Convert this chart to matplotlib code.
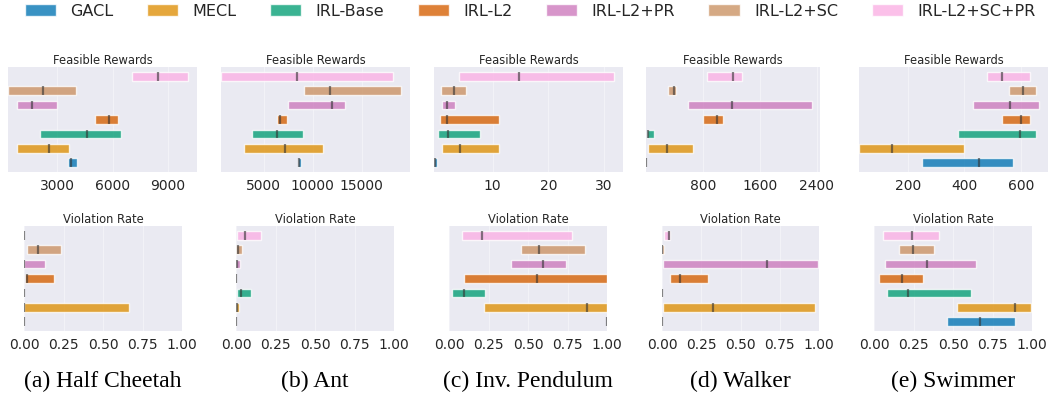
import numpy as np
import matplotlib
matplotlib.use("Agg")
import matplotlib.pyplot as plt
from matplotlib.patches import Patch

# ---------------- data ----------------
methods = ["GACL", "MECL", "IRL-Base", "IRL-L2", "IRL-L2+PR", "IRL-L2+SC", "IRL-L2+SC+PR"]
envs = ["(a) Half Cheetah", "(b) Ant", "(c) Inv. Pendulum", "(d) Walker", "(e) Swimmer"]

# Feasible rewards: min / max / median per method (order as in `methods`)
hc_rew_low = [3562, 790, 2058, 5029, 790, 340, 7040]
hc_rew_high = [4051, 3616, 6424, 6298, 2964, 4014, 10083]
hc_rew_med = [3761, 2529, 4631, 5826, 1623, 2203, 8471]

ant_rew_low = [8480, 2994, 3813, 6331, 7497, 9166, 670]
ant_rew_high = [8828, 11080, 9063, 7395, 13290, 19000, 18142]
ant_rew_med = [8654, 7221, 6402, 6679, 11929, 11796, 8378]

ip_rew_low = [-0.55, 0.9, 0.1, 0.5, 0.9, 0.7, 4.0]
ip_rew_high = [-0.05, 11.2, 7.8, 11.2, 3.2, 5.2, 31.8]
ip_rew_med = [-0.3, 4.1, 2.0, 1.7, 1.8, 3.0, 14.7]

wk_rew_low = [0, 22, 8, 799, 588, 314, 856]
wk_rew_high = [5, 658, 112, 1082, 2330, 422, 1351]
wk_rew_med = [2, 291, 27, 993, 1209, 390, 1223]

sw_rew_low = [250, 28, 378, 533, 430, 557, 478]
sw_rew_high = [570, 398, 654, 630, 663, 653, 630]
sw_rew_med = [450, 144, 595, 598, 560, 606, 533]

# Violation rate
hc_vio_low = [0, 0, 0, 0.004, 0, 0.017, 0]
hc_vio_high = [0, 0.664, 0, 0.188, 0.13, 0.237, 0]
hc_vio_med = [0, 0.002, 0, 0.02, 0.002, 0.087, 0]

ant_vio_low = [0, 0, 0.004, 0, 0, 0, 0.004]
ant_vio_high = [0, 0.017, 0.093, 0, 0.027, 0.036, 0.16]
ant_vio_med = [0, 0.004, 0.032, 0, 0.004, 0.01, 0.057]

ip_vio_low = [1.0, 0.222, 0.019, 0.097, 0.391, 0.457, 0.082]
ip_vio_high = [1.0, 1.0, 0.23, 1.0, 0.742, 0.863, 0.778]
ip_vio_med = [1.0, 0.873, 0.093, 0.56, 0.594, 0.567, 0.207]

wk_vio_low = [0, 0.004, 0, 0.05, 0.004, 0, 0.01]
wk_vio_high = [0, 0.977, 0, 0.296, 0.996, 0.01, 0.053]
wk_vio_med = [0, 0.326, 0, 0.114, 0.666, 0.002, 0.044]

sw_vio_low = [0.459, 0.524, 0.085, 0.03, 0.07, 0.156, 0.055]
sw_vio_high = [0.89, 0.996, 0.611, 0.311, 0.643, 0.378, 0.412]
sw_vio_med = [0.668, 0.894, 0.216, 0.175, 0.334, 0.247, 0.241]

rew_ticks = [[3000, 6000, 9000], [5000, 10000, 15000], [10, 20, 30],
             [800, 1600, 2400], [200, 400, 600]]
vio_ticks = [0.0, 0.25, 0.5, 0.75, 1.0]
vio_ticklabels = ["0.00", "0.25", "0.50", "0.75", "1.00"]

rew_data = [(hc_rew_low, hc_rew_high, hc_rew_med),
            (ant_rew_low, ant_rew_high, ant_rew_med),
            (ip_rew_low, ip_rew_high, ip_rew_med),
            (wk_rew_low, wk_rew_high, wk_rew_med),
            (sw_rew_low, sw_rew_high, sw_rew_med)]
vio_data = [(hc_vio_low, hc_vio_high, hc_vio_med),
            (ant_vio_low, ant_vio_high, ant_vio_med),
            (ip_vio_low, ip_vio_high, ip_vio_med),
            (wk_vio_low, wk_vio_high, wk_vio_med),
            (sw_vio_low, sw_vio_high, sw_vio_med)]

# ---------------- style ----------------
colors = ["#0173b2", "#de8f05", "#029e73", "#d55e00", "#cc78bc", "#ca9161", "#fbafe4"]
TXT = "#262626"
W, H = 1050, 402

fig = plt.figure(figsize=(W / 100, H / 100), dpi=100)

top_x = [(8.3, 197), (221, 410), (434, 623), (646, 820), (859, 1048)]
bot_x = [(24, 182), (236, 394), (449, 607), (662, 819), (874, 1032)]
top_y = (68, 173)
bot_y = (227, 332)


def make_ax(xr, yr):
    return fig.add_axes([xr[0] / W, 1 - yr[1] / H, (xr[1] - xr[0]) / W, (yr[1] - yr[0]) / H])


def draw(ax, low, high, med):
    low = np.asarray(low, float)
    high = np.asarray(high, float)
    med = np.asarray(med, float)
    y = np.arange(len(methods))
    ax.set_facecolor("#EAEAF2")
    for s in ax.spines.values():
        s.set_visible(False)
    ax.grid(axis="x", color="white", lw=0.8, alpha=0.4)
    ax.set_axisbelow(True)
    ax.barh(y, high - low, left=low, height=0.6, color=colors, alpha=0.78,
            edgecolor="white", linewidth=1.0)
    ax.vlines(med, y - 0.3, y + 0.3, colors="#333333", alpha=0.6, lw=1.6)
    ax.set_yticks([])
    ax.set_ylim(-0.65, 6.65)
    ax.tick_params(axis="x", length=0, pad=4, labelsize=10, labelcolor=TXT)


for i in range(5):
    ax = make_ax(top_x[i], top_y)
    low, high, med = rew_data[i]
    draw(ax, low, high, med)
    lo = min(low)
    hi = max(high)
    ax.set_xlim(lo, hi + 0.05 * (hi - lo))
    ax.set_xticks(rew_ticks[i])
    ax.set_xticklabels([str(t) for t in rew_ticks[i]])
    ax.set_title("Feasible Rewards", fontsize=8.3, color=TXT, pad=3)

    ax2 = make_ax(bot_x[i], bot_y)
    low, high, med = vio_data[i]
    draw(ax2, low, high, med)
    ax2.set_xlim(0, 1)
    ax2.set_xticks(vio_ticks)
    ax2.set_xticklabels(vio_ticklabels)
    ax2.set_title("Violation Rate", fontsize=8.3, color=TXT, pad=3)

    cx = (bot_x[i][0] + bot_x[i][1]) / 2 / W
    fig.text(cx, 1 - 381 / H, envs[i], ha="center", va="center",
             fontsize=17, family=["Liberation Serif", "DejaVu Serif"], color="black")

handles = [Patch(facecolor=c, alpha=0.78, edgecolor="white") for c in colors]
fig.legend(handles, methods, loc="center", bbox_to_anchor=(530 / W, 1 - 12 / H), ncol=7,
           frameon=False, fontsize=11.5, columnspacing=2.1, handletextpad=0.9,
           handlelength=1.95, labelcolor=TXT)

fig.savefig("out.png", dpi=100)
